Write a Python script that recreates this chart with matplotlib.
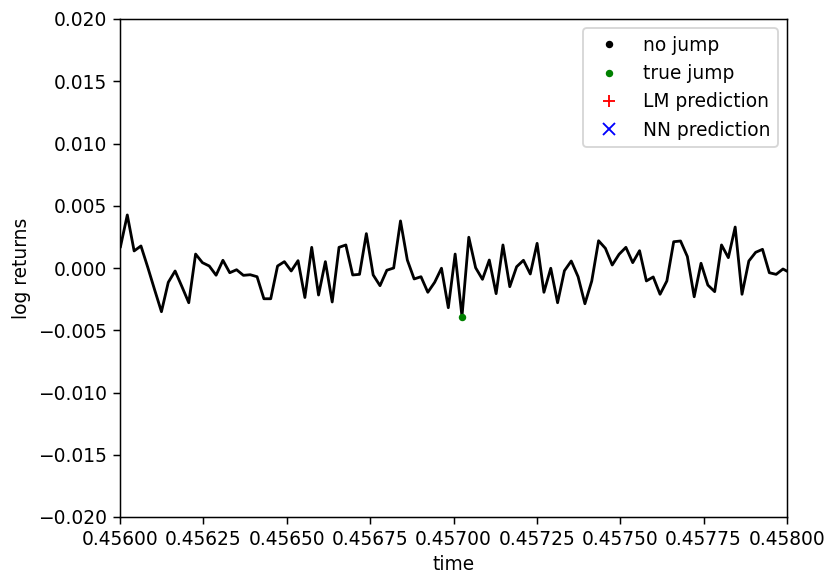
import numpy as np
import matplotlib
matplotlib.use("Agg")
import matplotlib.pyplot as plt

# log returns (units of 1e-3)
returns = np.array([
    1.71, 4.26, 1.37, 1.77, 0.05, -1.75, -3.51, -1.15, -0.24, -1.50,
    -2.79, 1.12, 0.43, 0.16, -0.58, 0.62, -0.38, -0.14, -0.59, -0.54,
    -0.70, -2.47, -2.47, 0.16, 0.51, -0.24, 0.59, -2.37, 1.66, -2.17,
    0.51, -2.73, 1.66, 1.85, -0.56, -0.51, 2.76, -0.56, -1.42, -0.18,
    0.00, 3.78, 0.64, -0.88, -0.70, -1.95, -1.15, -0.02, -3.19, 1.12,
    -3.90, 2.47, 0.02, -0.91, 0.64, -2.06, 1.85, -1.50, 0.10, 0.62,
    -0.48, 1.98, -1.95, -0.02, -2.79, -0.22, 0.56, -0.70, -2.87, -1.05,
    2.19, 1.58, 0.24, 1.10, 1.66, 0.43, 1.39, -1.04, -0.72, -2.11,
    -1.04, 2.11, 2.17, 0.92, -2.31, 0.38, -1.37, -1.90, 1.85, 0.83,
    3.29, -2.11, 0.56, 1.26, 1.50, -0.38, -0.51, -0.08, -0.38,
]) * 1e-3

t_start = 0.4560014
dt = 2.048e-5
time = t_start + dt * np.arange(len(returns))

jump_idx = [50]
lm_idx = []
nn_idx = []

DPI = 134
fig = plt.figure(figsize=(828 / DPI, 573 / DPI), dpi=DPI)
ax = fig.add_subplot(111)
fig.subplots_adjust(left=120 / 828, right=787 / 828, top=1 - 19 / 573, bottom=1 - 517 / 573)

ax.plot(time, returns, color='k')
ax.plot([], [], '.', color='k', label='no jump')
ax.plot(time[jump_idx], returns[jump_idx], '.', color='g', label='true jump')
ax.plot(time[lm_idx], returns[lm_idx], '+', color='r', label='LM prediction')
ax.plot(time[nn_idx], returns[nn_idx], 'x', color='b', label='NN prediction')

ax.set_xlim(0.456, 0.458)
ax.set_ylim(-0.02, 0.02)
ax.set_xlabel('time', labelpad=3)
ax.set_ylabel('log returns')
ax.legend(loc='upper right')

fig.savefig('out.png', dpi=DPI)
